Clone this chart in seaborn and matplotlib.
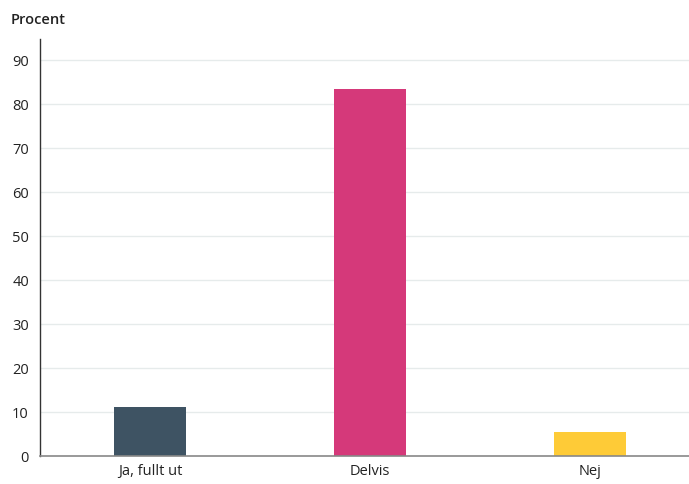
import matplotlib
matplotlib.use("Agg")
import matplotlib.pyplot as plt
import seaborn as sns
import pandas as pd

# --- DATA ---
categories = ["Ja, fullt ut", "Delvis", "Nej"]
values = [11.1, 83.4, 5.5]
colors = ["#3e5363", "#d5397a", "#fecb37"]
yticks = [0, 10, 20, 30, 40, 50, 60, 70, 80, 90]

sns.set_style("white")
plt.rcParams['font.family'] = ['Open Sans', 'DejaVu Sans']

df = pd.DataFrame({"kategori": categories, "procent": values})

fig = plt.figure(figsize=(6.89, 4.84), dpi=100)
ax = fig.add_axes([40 / 689, 28 / 484, 649 / 689, 417 / 484])

sns.barplot(data=df, x="kategori", y="procent", hue="kategori",
            palette=colors, width=0.33, ax=ax, legend=False,
            edgecolor="none", saturation=1)

ax.set_ylim(0, 94.8)
ax.set_xlim(-0.5, 2.45)
ax.set_yticks(yticks)
ax.yaxis.grid(True, color="#e6ebeb", linewidth=1)
ax.set_axisbelow(True)

ax.set_xlabel("")
ax.set_ylabel("")
ax.tick_params(axis="both", length=0, labelsize=10.5, colors="#222222")
ax.tick_params(axis="y", pad=8)
ax.tick_params(axis="x", pad=6)

for side in ["top", "right"]:
    ax.spines[side].set_visible(False)
ax.spines["left"].set_color("#333333")
ax.spines["left"].set_linewidth(1)
ax.spines["bottom"].set_color("#888888")
ax.spines["bottom"].set_linewidth(1.2)

fig.text(11 / 689, 1 - 20 / 484, "Procent", fontsize=10.5, fontweight="semibold",
         color="#222222", ha="left", va="center")

plt.savefig("out.png", dpi=100)
plt.close()
